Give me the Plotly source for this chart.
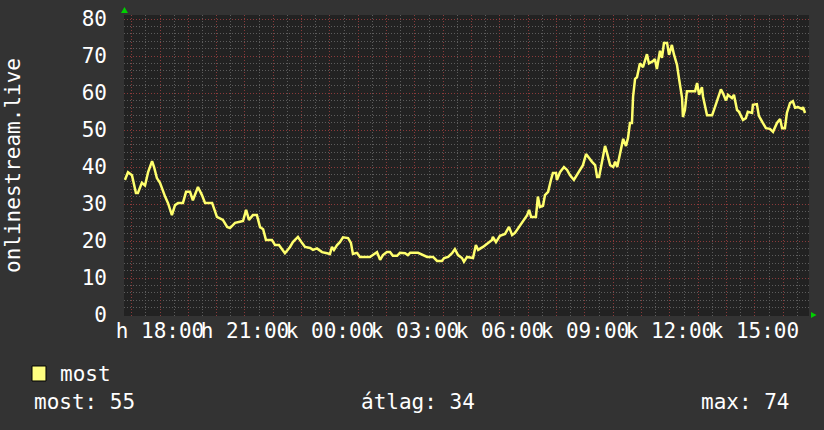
import plotly.graph_objects as go

# ---- data (hours since day-1 00:00; 24 = 00:00 next day) ----
times_h = [16.76, 16.87, 17.01, 17.15, 17.22, 17.36, 17.47, 17.58, 17.72, 17.79, 17.89, 18.00,
           18.18, 18.28, 18.42, 18.53, 18.64, 18.81, 18.92, 19.06, 19.16, 19.24, 19.34, 19.48,
           19.59, 19.84, 20.01, 20.22, 20.37, 20.47, 20.65, 20.82, 20.93, 21.04, 21.14, 21.28,
           21.42, 21.53, 21.64, 21.74, 21.95, 22.06, 22.20, 22.41, 22.59, 22.69, 22.87, 23.01,
           23.12, 23.30, 23.40, 23.54, 23.72, 23.90, 24.00, 24.07, 24.14, 24.25, 24.35, 24.46,
           24.64, 24.74, 24.81, 24.95, 25.06, 25.41, 25.59, 25.66, 25.77, 25.87, 26.01, 26.12,
           26.22, 26.37, 26.47, 26.65, 26.75, 26.83, 27.11, 27.28, 27.43, 27.64, 27.78, 27.95,
           28.03, 28.17, 28.31, 28.41, 28.52, 28.66, 28.73, 28.84, 29.05, 29.15, 29.23, 29.40,
           29.58, 29.72, 29.75, 29.86, 30.00, 30.18, 30.32, 30.43, 30.53, 30.67, 30.81, 30.96,
           31.03, 31.10, 31.27, 31.34, 31.41, 31.52, 31.59, 31.70, 31.80, 31.87, 31.98, 32.01,
           32.12, 32.26, 32.37, 32.47, 32.61, 32.72, 32.83, 32.93, 33.04, 33.11, 33.25, 33.36,
           33.43, 33.50, 33.60, 33.71, 33.78, 33.89, 34.00, 34.07, 34.14, 34.28, 34.35, 34.45,
           34.52, 34.59, 34.66, 34.70, 34.77, 34.84, 34.94, 35.05, 35.19, 35.26, 35.40, 35.47,
           35.54, 35.65, 35.72, 35.79, 35.90, 35.97, 36.07, 36.14, 36.25, 36.32, 36.43, 36.46,
           36.53, 36.60, 36.89, 36.96, 37.03, 37.13, 37.17, 37.31, 37.49, 37.59, 37.70, 37.80,
           37.87, 37.98, 38.05, 38.19, 38.26, 38.37, 38.44, 38.58, 38.68, 38.75, 38.90, 38.93,
           39.07, 39.14, 39.28, 39.39, 39.53, 39.64, 39.78, 39.89, 39.96, 40.06, 40.13, 40.24,
           40.34, 40.42, 40.52, 40.66, 40.70, 40.77]
listeners = [36.5, 38.6, 37.8, 33.0, 33.0, 35.7, 35.0, 38.6, 41.6, 40.0, 37.0, 35.7,
             32.0, 30.3, 27.0, 29.7, 30.3, 30.3, 33.3, 33.3, 31.0, 32.4, 34.6, 32.4,
             30.3, 30.3, 26.5, 25.7, 23.8, 23.5, 24.9, 25.2, 25.4, 28.4, 25.7, 27.0,
             27.0, 23.8, 23.2, 20.3, 20.3, 18.9, 18.9, 16.7, 18.4, 19.7, 21.1, 19.5,
             18.4, 18.1, 17.6, 18.0, 17.0, 16.7, 16.5, 18.4, 17.6, 18.9, 19.7, 21.0,
             20.8, 19.5, 16.5, 16.8, 15.7, 15.7, 16.8, 17.0, 14.9, 16.2, 17.0, 17.0,
             16.0, 16.0, 16.8, 16.7, 16.2, 16.8, 16.8, 16.2, 15.7, 15.7, 14.6, 14.6,
             15.4, 15.7, 16.7, 17.8, 16.2, 15.4, 14.4, 15.7, 15.4, 18.9, 17.6, 18.4,
             19.5, 20.3, 21.1, 19.7, 21.4, 21.9, 23.8, 21.6, 22.2, 23.8, 25.4, 27.0,
             28.4, 26.5, 26.5, 32.0, 29.2, 29.5, 32.4, 33.3, 36.5, 38.4, 38.4, 36.5,
             38.6, 40.0, 39.2, 37.8, 36.5, 37.8, 39.2, 40.5, 43.5, 42.7, 41.4, 40.5,
             37.3, 37.3, 41.0, 45.7, 43.8, 40.5, 40.0, 41.4, 40.0, 45.0, 47.6, 45.7,
             47.8, 51.9, 51.9, 59.0, 63.8, 64.3, 68.0, 67.0, 70.5, 68.0, 68.6, 69.2,
             66.5, 71.4, 69.5, 73.5, 73.5, 70.3, 73.0, 70.5, 67.6, 64.0, 58.6, 53.5,
             55.4, 60.5, 60.5, 62.7, 59.5, 61.6, 59.0, 54.0, 54.0, 56.2, 58.6, 61.0,
             60.0, 58.0, 59.5, 58.6, 59.5, 55.4, 54.9, 52.7, 53.2, 54.9, 54.6, 56.8,
             57.0, 53.8, 51.9, 50.5, 50.3, 49.5, 51.9, 53.0, 50.5, 50.5, 54.6, 57.3,
             57.8, 56.0, 56.2, 55.7, 56.2, 54.6]

label_hours = [18, 21, 24, 27, 30, 33, 36, 39]
label_texts = ["h 18:00", "h 21:00", "k 00:00", "k 03:00", "k 06:00", "k 09:00", "k 12:00", "k 15:00"]
y_ticks = [0, 10, 20, 30, 40, 50, 60, 70, 80]

series_name = "most"
y_title = "onlinestream.live"
stats = {"most": 55, "átlag": 34, "max": 74}

# ---- style ----
FONT = "DejaVu Sans Mono"
FS = 21
TXT = "#ffffff"
LINE = "#ffff6e"
MAJOR = "#8a3a3a"
MINOR = "#5c5c5c"

hour_ticks = list(range(17, 41))
hour_text = [label_texts[label_hours.index(h)] if h in label_hours else "" for h in hour_ticks]

fig = go.Figure()
fig.add_trace(go.Scatter(x=times_h, y=listeners, mode="lines",
                         line=dict(color=LINE, width=2.5), name=series_name,
                         showlegend=False, hoverinfo="skip"))

fig.update_layout(
    width=824, height=430,
    margin=dict(l=124, r=15, t=15, b=114, autoexpand=False),
    paper_bgcolor="#333333", plot_bgcolor="#222222",
    font=dict(family=FONT, size=FS, color=TXT),
    showlegend=False,
)
fig.update_xaxes(
    range=[16.729, 40.91], tickmode="array", tickvals=hour_ticks, ticktext=hour_text,
    tickangle=0, automargin=False, ticklabeloverflow="allow",
    showgrid=True, gridcolor=MAJOR, griddash="1px,2px", gridwidth=1,
    minor=dict(dtick=0.5, tick0=0, showgrid=True, gridcolor=MINOR, griddash="1px,2px", gridwidth=1),
    zeroline=False, showline=False, ticks="", ticklabelstandoff=0,
    tickfont=dict(family=FONT, size=FS, color=TXT),
)
fig.update_yaxes(
    range=[-0.27, 81.08], tickmode="array", tickvals=y_ticks, automargin=False,
    ticklabeloverflow="allow",
    showgrid=True, gridcolor=MAJOR, griddash="1px,2px", gridwidth=1,
    minor=dict(dtick=2, tick0=0, showgrid=True, gridcolor=MINOR, griddash="1px,2px", gridwidth=1),
    zeroline=False, showline=False, ticks="", ticklabelstandoff=16,
    tickfont=dict(family=FONT, size=FS, color=TXT),
)

# green arrows at axis ends
fig.add_shape(type="path", xref="paper", yref="paper",
              path="M -0.0044 1.0066 L 0.0058 1.0066 L 0.0007 1.0266 Z",
              fillcolor="#00d000", line=dict(width=0))
fig.add_shape(type="path", xref="paper", yref="paper",
              path="M 1.0029 0.0133 L 1.0029 -0.0066 L 1.0110 0.0033 Z",
              fillcolor="#00d000", line=dict(width=0))

# y-axis title
fig.add_annotation(text=y_title, xref="paper", yref="paper", x=-0.1628, y=0.5,
                   textangle=-90, showarrow=False, xanchor="center", yanchor="middle",
                   font=dict(family=FONT, size=FS, color=TXT))

# legend box + text
fig.add_shape(type="rect", xref="paper", yref="paper",
              x0=-0.1343, x1=-0.1139, y0=-0.2159, y1=-0.1661,
              fillcolor="#ffff80", line=dict(color="#000000", width=1))
fig.add_annotation(text=series_name, xref="paper", yref="paper", x=-0.0963, y=-0.1927,
                   showarrow=False, xanchor="left", yanchor="middle",
                   font=dict(family=FONT, size=FS, color=TXT))

keys = list(stats.keys())
fig.add_annotation(text=f"{keys[0]}: {stats[keys[0]]}", xref="paper", yref="paper",
                   x=-0.1343, y=-0.2857, showarrow=False, xanchor="left", yanchor="middle",
                   font=dict(family=FONT, size=FS, color=TXT))
fig.add_annotation(text=f"{keys[1]}: {stats[keys[1]]}", xref="paper", yref="paper",
                   x=0.4292, y=-0.2857, showarrow=False, xanchor="center", yanchor="middle",
                   font=dict(family=FONT, size=FS, color=TXT))
fig.add_annotation(text=f"{keys[2]}: {stats[keys[2]]}", xref="paper", yref="paper",
                   x=0.9752, y=-0.2857, showarrow=False, xanchor="right", yanchor="middle",
                   font=dict(family=FONT, size=FS, color=TXT))

fig.write_html("out.html", config={"displayModeBar": False},
               post_script="document.body.style.margin='0';document.body.style.background='#333333';")
